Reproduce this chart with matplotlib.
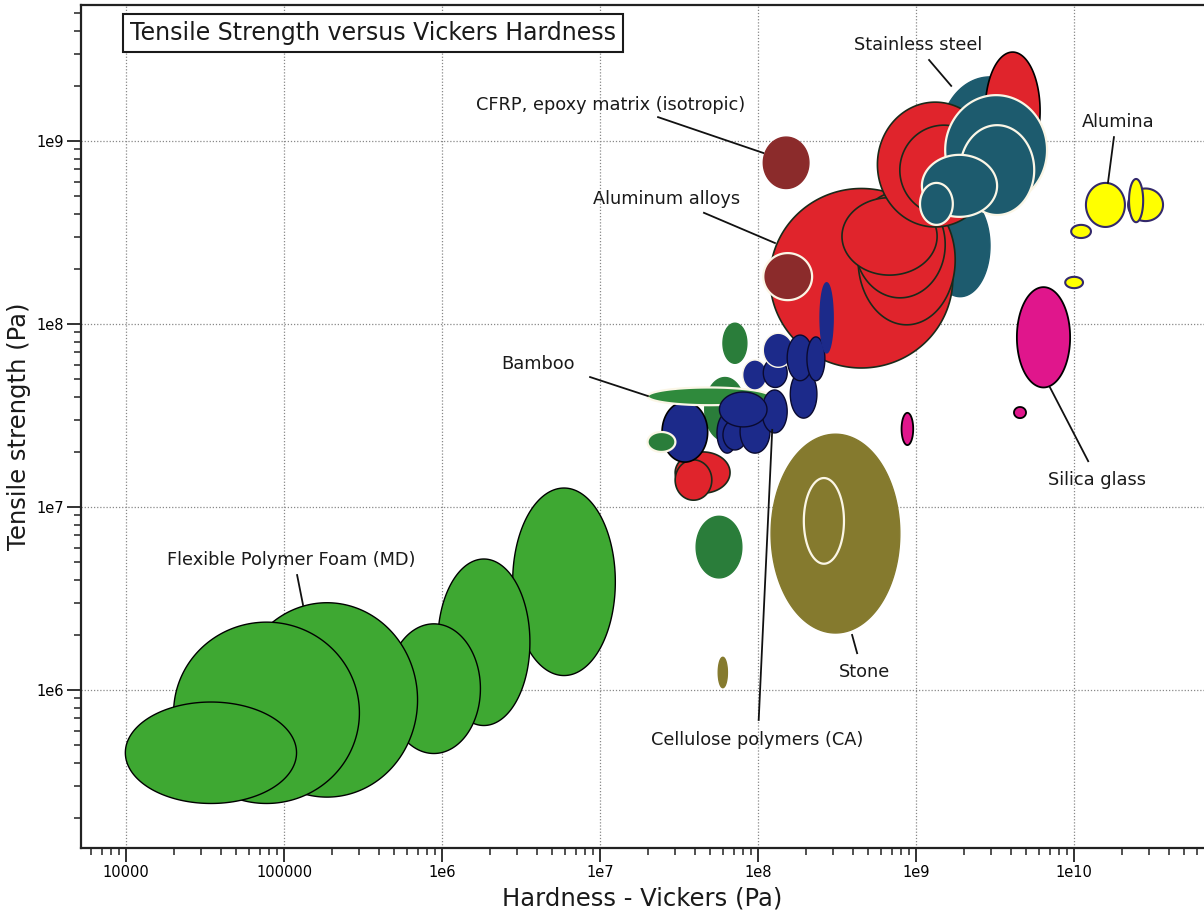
import numpy as np
import matplotlib
matplotlib.use('Agg')
import matplotlib.pyplot as plt
from matplotlib.ticker import LogLocator, FixedLocator, FuncFormatter, NullFormatter

# each bubble is (hardness low, hardness high, strength low, strength high) in Pa
foam = [(2.8e6, 1.25e7, 1.2e6, 1.27e7),
        (9.4e5, 3.6e6, 6.4e5, 5.2e6),
        (4.5e5, 1.75e6, 4.5e5, 2.3e6),
        (5.0e4, 7.0e5, 2.6e5, 3.0e6),
        (2.0e4, 3.0e5, 2.4e5, 2.35e6),
        (9.9e3, 1.2e5, 2.4e5, 8.6e5)]
stone = [(1.21e8, 7.9e8, 2.05e6, 2.5e7),
         (1.95e8, 3.5e8, 4.9e6, 1.44e7),
         (5.6e7, 6.4e7, 1.03e6, 1.51e6)]
wood = [(4.06e7, 7.9e7, 4.1e6, 8.9e6),
        (6.0e7, 8.5e7, 6.1e7, 1.01e8),
        (4.6e7, 8.3e7, 2.3e7, 5.1e7)]
wood_small = (2.0e7, 3.0e7, 2.0e7, 2.57e7)
bamboo = (2.0e7, 1.19e8, 3.6e7, 4.5e7)
polymer_red = [(2.99e7, 6.65e7, 1.19e7, 2.0e7),
               (2.99e7, 5.1e7, 1.09e7, 1.81e7)]
cellulose = [(2.47e7, 4.8e7, 1.76e7, 3.75e7),
             (5.5e7, 7.4e7, 1.97e7, 3.27e7),
             (6.0e7, 8.5e7, 2.05e7, 3.0e7),
             (7.7e7, 1.19e8, 1.97e7, 3.4e7),
             (1.6e8, 2.36e8, 3.06e7, 5.6e7),
             (1.06e8, 1.53e8, 2.54e7, 4.36e7),
             (8.0e7, 1.14e8, 4.36e7, 6.36e7),
             (1.08e8, 1.53e8, 4.5e7, 6.5e7),
             (1.08e8, 1.67e8, 5.8e7, 8.9e7),
             (1.53e8, 2.23e8, 4.9e7, 8.7e7),
             (2.04e8, 2.65e8, 4.9e7, 8.5e7),
             (5.7e7, 1.14e8, 2.74e7, 4.25e7)]
cellulose_tall = (2.47e8, 2.99e8, 6.95e7, 1.68e8)
steel_back = [(1.23e9, 2.94e9, 1.41e8, 5.07e8),
              (1.42e9, 6.1e9, 4.77e8, 2.24e9)]
red_top = (2.74e9, 6.1e9, 6.95e8, 3.06e9)
aluminum = [(1.19e8, 1.71e9, 5.75e7, 5.5e8),
            (4.3e8, 1.77e9, 9.9e7, 5.07e8),
            (4.1e8, 1.53e9, 1.39e8, 5.3e8),
            (3.4e8, 1.36e9, 1.85e8, 4.9e8),
            (5.7e8, 3.07e9, 3.39e8, 1.63e9),
            (7.9e8, 2.86e9, 3.94e8, 1.22e9)]
cfrp = [(1.08e8, 2.1e8, 5.5e8, 1.05e9),
        (1.08e8, 2.2e8, 1.35e8, 2.44e8)]
steel = [(1.53e9, 6.75e9, 4.47e8, 1.78e9),
         (1.9e9, 5.6e9, 3.94e8, 1.22e9),
         (1.09e9, 3.26e9, 3.85e8, 8.4e8),
         (1.06e9, 1.71e9, 3.48e8, 5.9e8)]
glass = [(4.35e9, 9.45e9, 4.5e7, 1.59e8),
         (8.1e8, 9.6e8, 2.18e7, 3.27e7),
         (4.17e9, 4.97e9, 3.06e7, 3.52e7)]
alumina = [(1.19e10, 2.1e10, 3.39e8, 5.9e8),
           (2.2e10, 3.66e10, 3.65e8, 5.5e8),
           (2.23e10, 2.74e10, 3.6e8, 6.2e8),
           (9.6e9, 1.28e10, 2.95e8, 3.48e8),
           (8.8e9, 1.14e10, 1.57e8, 1.81e8)]

# label text, text position, leader start, leader end
labels = [
    ('Flexible Polymer Foam (MD)', (1.11e5, 5.13e6), (1.21e5, 4.25e6), (1.32e5, 2.91e6)),
    ('Bamboo', (4.06e6, 6.04e7), (8.65e6, 5.13e7), (2.01e7, 4.04e7)),
    ('CFRP, epoxy matrix (isotropic)', (1.16e7, 1.57e9), (2.33e7, 1.35e9), (1.08e8, 8.6e8)),
    ('Aluminum alloys', (2.65e7, 4.82e8), (4.55e7, 4.05e8), (1.28e8, 2.77e8)),
    ('Stainless steel', (1.03e9, 3.35e9), (1.21e9, 2.77e9), (1.67e9, 2.0e9)),
    ('Alumina', (1.9e10, 1.27e9), (1.79e10, 1.05e9), (1.64e10, 5.9e8)),
    ('Silica glass', (1.4e10, 1.41e7), (7.05e9, 4.5e7), (1.23e10, 1.78e7)),
    ('Stone', (4.69e8, 1.25e6), (3.94e8, 2.0e6), (4.24e8, 1.59e6)),
    ('Cellulose polymers (CA)', (9.86e7, 5.33e5), (1.01e8, 6.86e5), (1.23e8, 2.64e7)),
]

x_decades = [1e4, 1e5, 1e6, 1e7, 1e8, 1e9, 1e10]
y_decades = [1e6, 1e7, 1e8, 1e9]


def blob(ax, rng, face, edge='black', lw=1.0):
    h0, h1, s0, s1 = np.log10(rng)
    t = np.linspace(0, 2 * np.pi, 300)
    x = 10 ** ((h0 + h1) / 2 + (h1 - h0) / 2 * np.cos(t))
    y = 10 ** ((s0 + s1) / 2 + (s1 - s0) / 2 * np.sin(t))
    ax.fill(x, y, facecolor=face, edgecolor=edge, linewidth=lw)


fig = plt.figure(figsize=(12.04, 9.17), dpi=100)
ax = fig.add_axes([0.0673, 0.0752, 0.9327, 0.9193])
ax.set_xscale('log')
ax.set_yscale('log')
ax.set_xlim(5.19e3, 6.65e10)
ax.set_ylim(1.37e5, 5.53e9)
ax.set_axisbelow(True)

green = '#3ea832'
dkgreen = '#2a7d3a'
navy = '#1c2a8a'
red = '#e0242c'
dkred = '#8b2b2b'
teal = '#1d5b6e'
olive = '#857a2e'
pink = '#e0168c'
white = '#fbf6e6'

for r in foam:
    blob(ax, r, green)
blob(ax, stone[0], olive, edge=olive)
blob(ax, stone[1], olive, edge=white, lw=1.6)
blob(ax, stone[2], olive, edge=olive)
for r in wood[:2]:
    blob(ax, r, dkgreen, edge=dkgreen)
for r in polymer_red:
    blob(ax, r, red, edge='#1a2a1a', lw=1.2)

# steel / aluminium cluster
for r in steel_back:
    blob(ax, r, teal, edge=teal)
blob(ax, red_top, red, lw=1.2)
for r in aluminum:
    blob(ax, r, red, edge='#1a2a1a', lw=1.2)
blob(ax, cfrp[0], dkred, edge=dkred)
blob(ax, cfrp[1], dkred, edge=white, lw=1.6)
for r in steel:
    blob(ax, r, teal, edge=white, lw=1.6)

# bamboo / cellulose cluster
blob(ax, wood[2], dkgreen, edge=dkgreen)
blob(ax, cellulose[0], navy, lw=1.2)
blob(ax, wood_small, dkgreen, edge=white, lw=1.6)
blob(ax, bamboo, '#2f8a3c', edge=white, lw=1.6)
for i, r in enumerate(cellulose[1:]):
    blob(ax, r, navy, edge=white if i in (5, 7) else '#0a0a30', lw=1.0)
blob(ax, cellulose_tall, navy, edge=navy)

for r in glass:
    blob(ax, r, pink, lw=1.3)
for r in alumina:
    blob(ax, r, '#ffff00', edge='#33296b', lw=1.5)

for text, pos, p0, p1 in labels:
    ax.plot([p0[0], p1[0]], [p0[1], p1[1]], color='#111111', lw=1.3, zorder=5)
    ax.text(pos[0], pos[1], text, ha='center', va='center', fontsize=12.8,
            color='#1a1a1a', zorder=6)

ax.text(0.26, 0.967, 'Tensile Strength versus Vickers Hardness', transform=ax.transAxes,
        ha='center', va='center', fontsize=17, color='#1a1a1a', zorder=7,
        bbox=dict(boxstyle='square,pad=0.3', facecolor='white', edgecolor='#1a1a1a', linewidth=1.5))


def fmt(v, pos):
    e = int(round(np.log10(v)))
    if e < 6:
        return str(10 ** e)
    return '1e%d' % e


ax.xaxis.set_major_locator(FixedLocator(x_decades))
ax.yaxis.set_major_locator(FixedLocator(y_decades))
for axis in (ax.xaxis, ax.yaxis):
    axis.set_minor_locator(LogLocator(base=10, subs=np.arange(2, 10), numticks=20))
    axis.set_major_formatter(FuncFormatter(fmt))
    axis.set_minor_formatter(NullFormatter())

ax.tick_params(which='major', length=10, width=1.3, color='#222222', labelsize=10.5, pad=2)
ax.tick_params(which='minor', length=5, width=1.1, color='#222222')
ax.grid(True, which='major', color='#888888', linestyle=(0, (1, 1.5)), linewidth=0.9)

for s in ('left', 'bottom', 'top'):
    ax.spines[s].set_linewidth(1.6)
    ax.spines[s].set_color('#222222')
ax.spines['right'].set_visible(False)

ax.set_xlabel('Hardness - Vickers (Pa)', fontsize=17.5, color='#1a1a1a', labelpad=5)
ax.set_ylabel('Tensile strength (Pa)', fontsize=17.5, color='#1a1a1a', labelpad=4)

fig.savefig('out.png', dpi=100)
